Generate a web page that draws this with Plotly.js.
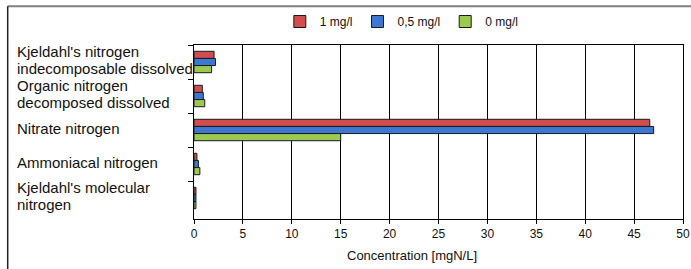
<!DOCTYPE html>
<html>
<head>
<meta charset="utf-8">
<script src="https://cdn.plot.ly/plotly-3.0.1.min.js"></script>
<style>html,body{margin:0;padding:0;background:#fff;}#chart{width:691px;height:269px;}</style>
</head>
<body>
<div id="chart"></div>
<script>
const categories = [
  "Kjeldahl's nitrogen<br>indecomposable dissolved",
  "Organic nitrogen<br>decomposed dissolved",
  "Nitrate nitrogen",
  "Ammoniacal nitrogen",
  "Kjeldahl's molecular<br>nitrogen"
];
const seriesNames = ["1 mg/l", "0,5 mg/l", "0 mg/l"];
const values1 = [2.05, 0.85, 46.6, 0.3, 0.2];
const values05 = [2.2, 0.95, 47.0, 0.45, 0.2];
const values0 = [1.8, 1.1, 15.0, 0.6, 0.2];
const xTicks = [0, 5, 10, 15, 20, 25, 30, 35, 40, 45, 50];
const xTitle = "Concentration [mgN/L]";

const colors = ["#d24d4d", "#3c78d2", "#9cc950"];
const allValues = [values1, values05, values0];

const traces = allValues.map((v, i) => ({
  type: 'bar',
  orientation: 'h',
  name: seriesNames[i],
  y: categories,
  x: v,
  marker: {color: colors[i], line: {color: '#1a1a1a', width: 1}},
  hoverinfo: 'x'
}));

const font = "Liberation Sans, Arial, sans-serif";
const annotations = [];
categories.forEach(c => {
  const lines = c.split('<br>');
  const n = lines.length;
  lines.forEach((ln, k) => {
    annotations.push({
      xref: 'paper', yref: 'y', x: -0.366, y: c,
      xanchor: 'left', yanchor: 'middle', align: 'left',
      yshift: ((n - 1) / 2 - k) * 17 + 2,
      text: ln, showarrow: false,
      font: {family: font, size: 15, color: '#111'}
    });
  });
});
annotations.push({
  xref: 'paper', yref: 'paper', x: 0.446, y: -0.21,
  xanchor: 'center', yanchor: 'middle',
  text: xTitle, showarrow: false,
  font: {family: font, size: 13, color: '#111'}
});

const layout = {
  width: 691, height: 269,
  margin: {l: 194, r: 8, t: 45, b: 50, autoexpand: false},
  paper_bgcolor: '#fff', plot_bgcolor: '#fff',
  barmode: 'group', bargap: 0.37, bargroupgap: 0,
  showlegend: true,
  legend: {
    orientation: 'h', x: 0.425, xanchor: 'center', y: 1.135, yanchor: 'middle',
    font: {family: font, size: 12, color: '#111'},
    itemwidth: 30, traceorder: 'normal', bgcolor: 'rgba(0,0,0,0)'
  },
  xaxis: {
    range: [0, 50], tickvals: xTicks, ticktext: xTicks.map(String),
    showgrid: true, gridcolor: '#000', gridwidth: 1,
    zeroline: false, showline: true, linecolor: '#000', linewidth: 1, mirror: true,
    ticks: 'outside', ticklen: 4, tickcolor: '#000',
    tickfont: {family: font, size: 12, color: '#111'}
  },
  yaxis: {
    type: 'category', autorange: 'reversed',
    showticklabels: false, tickson: 'boundaries',
    ticks: 'outside', ticklen: 5, tickcolor: '#000',
    showgrid: false, zeroline: false,
    showline: true, linecolor: '#000', linewidth: 1, mirror: true
  },
  annotations: annotations,
  shapes: [
    {type: 'line', xref: 'paper', yref: 'paper', x0: -0.381, x1: 1.02, y0: 1.222, y1: 1.222,
     line: {color: '#808080', width: 2}},
    {type: 'line', xref: 'paper', yref: 'paper', x0: -0.381, x1: -0.381, y0: 1.222, y1: -0.3,
     line: {color: '#222', width: 1.5}}
  ]
};

Plotly.newPlot('chart', traces, layout, {staticPlot: true, displayModeBar: false});
</script>
</body>
</html>
